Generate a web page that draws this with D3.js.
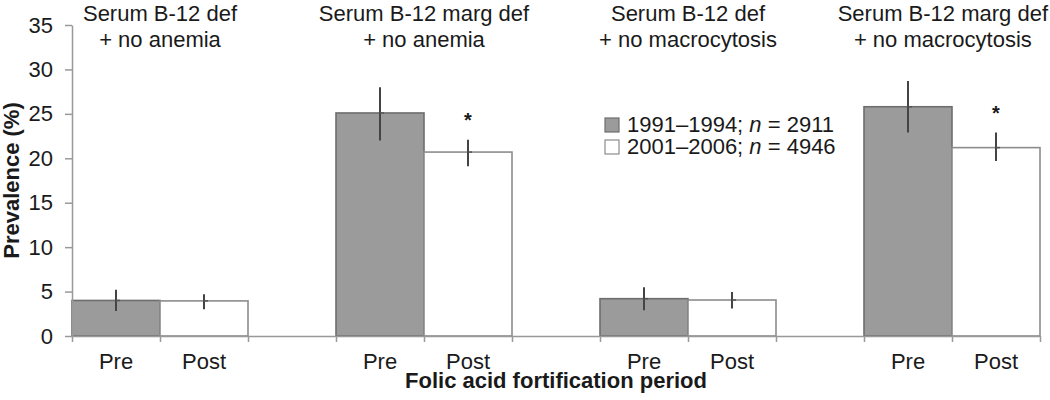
<!DOCTYPE html>
<html>
<head>
<meta charset="utf-8">
<script src="https://cdn.jsdelivr.net/npm/d3@7"></script>
<style>
  body { margin: 0; background: #fff; }
  svg text { font-family: "Liberation Sans", Arial, Helvetica, sans-serif; fill: #1a1a1a; }
</style>
</head>
<body>
<div id="chart"></div>
<script>
// data
const groupTitles = [
  ['Serum B-12 def', '+ no anemia'],
  ['Serum B-12 marg def', '+ no anemia'],
  ['Serum B-12 def', '+ no macrocytosis'],
  ['Serum B-12 marg def', '+ no macrocytosis']
];
const periodLabels = ['Pre', 'Post'];
const preValues = [4.0, 25.1, 4.2, 25.8];
const preLow = [2.8, 22.0, 2.9, 22.9];
const preHigh = [5.2, 28.0, 5.5, 28.7];
const postValues = [3.95, 20.7, 4.05, 21.2];
const postLow = [3.0, 19.1, 3.1, 19.7];
const postHigh = [4.7, 22.1, 4.95, 22.9];
const significant = [false, true, false, true];
const yTicks = [0, 5, 10, 15, 20, 25, 30, 35];
const legendLabels = [
  ['1991\u20131994; ', 'n', ' = 2911'],
  ['2001\u20132006; ', 'n', ' = 4946']
];

const width = 1050, height = 400;
const margin = { top: 25, right: 10, bottom: 64, left: 72 };
const innerHeight = height - margin.top - margin.bottom;
const innerWidth = width - margin.left - margin.right;
const fontSize = '22px';

const svg = d3.select('#chart').append('svg')
  .attr('width', width).attr('height', height);

const mainG = svg.append('g')
  .attr('transform', `translate(${margin.left}, ${margin.top})`);

// 11 slots: pre, post, gap, pre, post, gap ...
const slotCount = groupTitles.length * 3 - 1;
const xSlot = d3.scaleBand()
  .domain(d3.range(slotCount))
  .range([0, innerWidth])
  .padding(0);
const xEdge = d3.scaleLinear()
  .domain([0, slotCount])
  .range([0, innerWidth]);

const yScale = d3.scaleLinear()
  .domain([0, 35])
  .range([innerHeight, 0]);

// bars
const bars = [];
groupTitles.forEach((g, i) => {
  bars.push({ slot: i * 3, v: preValues[i], lo: preLow[i], hi: preHigh[i], kind: 'pre', sig: false });
  bars.push({ slot: i * 3 + 1, v: postValues[i], lo: postLow[i], hi: postHigh[i], kind: 'post', sig: significant[i] });
});

mainG.selectAll('rect.bar')
  .data(bars)
  .join('rect')
  .attr('class', 'bar')
  .attr('x', d => xSlot(d.slot))
  .attr('width', xSlot.bandwidth())
  .attr('y', d => yScale(d.v))
  .attr('height', d => innerHeight - yScale(d.v))
  .attr('fill', d => d.kind === 'pre' ? '#9b9b9b' : '#fff')
  .attr('stroke', d => d.kind === 'pre' ? '#6e6e6e' : '#8c8c8c')
  .attr('stroke-width', 1.6);

// error bars
mainG.selectAll('line.err')
  .data(bars)
  .join('line')
  .attr('class', 'err')
  .attr('x1', d => xSlot(d.slot) + xSlot.bandwidth() / 2)
  .attr('x2', d => xSlot(d.slot) + xSlot.bandwidth() / 2)
  .attr('y1', d => yScale(d.lo))
  .attr('y2', d => yScale(d.hi))
  .attr('stroke', '#444')
  .attr('stroke-width', 2);

mainG.selectAll('line.errmid')
  .data(bars)
  .join('line')
  .attr('class', 'errmid')
  .attr('x1', d => xSlot(d.slot) + xSlot.bandwidth() / 2)
  .attr('x2', d => xSlot(d.slot) + xSlot.bandwidth() / 2 + 4)
  .attr('y1', d => yScale(d.v))
  .attr('y2', d => yScale(d.v))
  .attr('stroke', '#555')
  .attr('stroke-width', 1.5);

// significance stars
mainG.selectAll('text.star')
  .data(bars.filter(d => d.sig))
  .join('text')
  .attr('class', 'star')
  .attr('x', d => xSlot(d.slot) + xSlot.bandwidth() / 2)
  .attr('y', d => yScale(d.hi) - 13)
  .attr('text-anchor', 'middle')
  .style('font-size', '20px')
  .style('font-weight', 'bold')
  .text('*');

// y axis
const yAxis = d3.axisLeft(yScale)
  .tickValues(yTicks)
  .tickSize(7)
  .tickSizeOuter(0)
  .tickPadding(12);

const yG = mainG.append('g').call(yAxis);
yG.select('.domain').attr('stroke', '#999').attr('stroke-width', 1.5);
yG.selectAll('.tick line').attr('stroke', '#999').attr('stroke-width', 1.5);
yG.selectAll('.tick text')
  .style('font-size', fontSize)
  .style('font-family', '"Liberation Sans", Arial, sans-serif')
  .attr('fill', '#1a1a1a');

// x axis: ticks on every slot edge
const xAxis = d3.axisBottom(xEdge)
  .tickValues(d3.range(slotCount + 1))
  .tickFormat('')
  .tickSize(6)
  .tickSizeOuter(0);

const xG = mainG.append('g')
  .attr('transform', `translate(0, ${innerHeight})`)
  .call(xAxis);
xG.select('.domain').attr('stroke', '#999').attr('stroke-width', 1.5);
xG.selectAll('.tick line').attr('stroke', '#999').attr('stroke-width', 1.5);

mainG.selectAll('text.period')
  .data(bars)
  .join('text')
  .attr('class', 'period')
  .attr('x', d => xSlot(d.slot) + xSlot.bandwidth() / 2)
  .attr('y', innerHeight + 33)
  .attr('text-anchor', 'middle')
  .style('font-size', fontSize)
  .text(d => d.kind === 'pre' ? periodLabels[0] : periodLabels[1]);

// axis titles
mainG.append('text')
  .attr('x', innerWidth / 2)
  .attr('y', innerHeight + 52)
  .attr('text-anchor', 'middle')
  .style('font-size', fontSize)
  .style('font-weight', 'bold')
  .text('Folic acid fortification period');

svg.append('text')
  .attr('transform', `translate(19, ${margin.top + innerHeight / 2}) rotate(-90)`)
  .attr('text-anchor', 'middle')
  .style('font-size', fontSize)
  .style('font-weight', 'bold')
  .text('Prevalence (%)');

// group titles, kept inside the picture
groupTitles.forEach((lines, i) => {
  const cx = margin.left + xEdge(i * 3 + 1);
  const tg = svg.append('g');
  const texts = lines.map((l, j) => tg.append('text')
    .attr('y', 21 + j * 26)
    .attr('text-anchor', 'middle')
    .style('font-size', fontSize)
    .text(l));
  const maxW = d3.max(texts, t => t.node().getComputedTextLength());
  const x = Math.min(cx, width - 2 - maxW / 2);
  texts.forEach(t => t.attr('x', x));
});

// legend
const legend = svg.append('g').attr('transform', 'translate(605, 118)');
legendLabels.forEach((parts, i) => {
  const row = legend.append('g').attr('transform', `translate(0, ${i * 22})`);
  row.append('rect')
    .attr('width', 14).attr('height', 14)
    .attr('fill', i === 0 ? '#9b9b9b' : '#fff')
    .attr('stroke', i === 0 ? '#6e6e6e' : '#8c8c8c')
    .attr('stroke-width', 1.2);
  const t = row.append('text')
    .attr('x', 22).attr('y', 14)
    .style('font-size', fontSize);
  t.append('tspan').text(parts[0]);
  t.append('tspan').style('font-style', 'italic').text(parts[1]);
  t.append('tspan').text(parts[2]);
});
</script>
</body>
</html>
